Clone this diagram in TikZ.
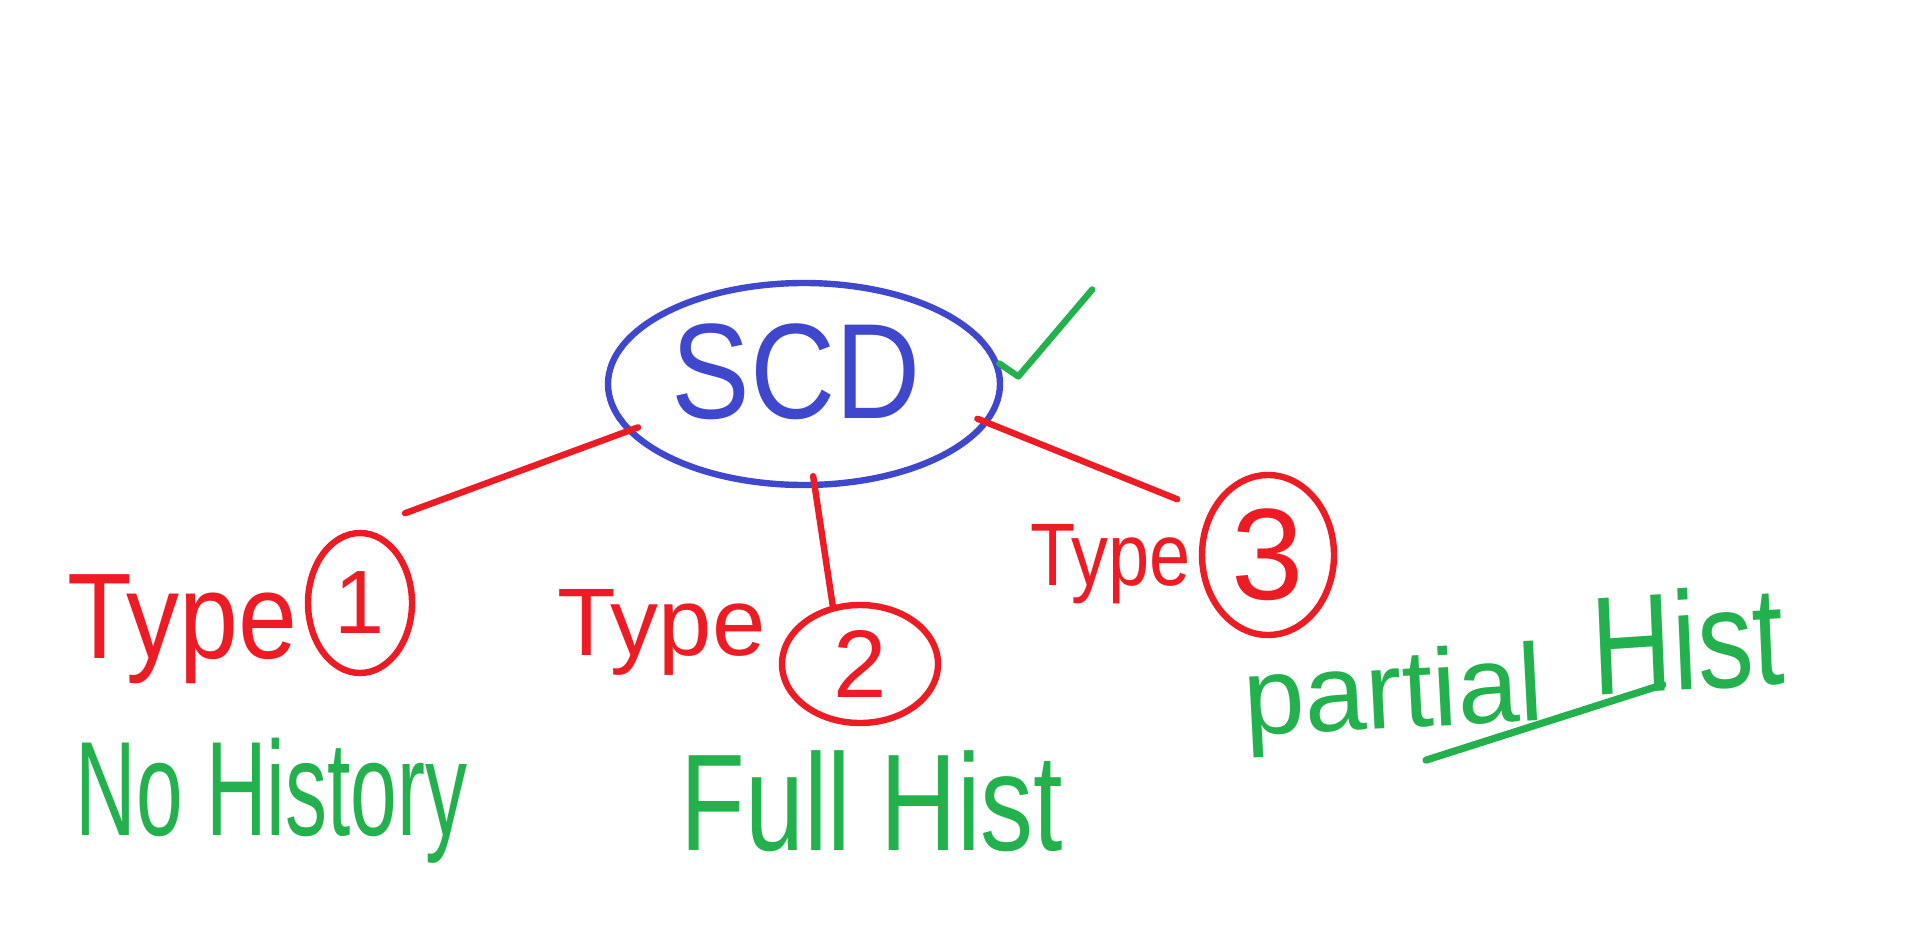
\documentclass[tikz,border=0pt]{standalone}
\usepackage{fontspec}
\setmainfont{Liberation Sans}
\usetikzlibrary{shapes.geometric,calc}
\definecolor{inkblue}{RGB}{63,72,204}
\definecolor{inkred}{RGB}{237,28,36}
\definecolor{inkgreen}{RGB}{34,177,76}
\newcommand*{\hand}[1]{\fontsize{#1}{#1}\selectfont}

\begin{document}
\begin{tikzpicture}[x=0.5pt,y=-0.5pt,
  word/.style={inner sep=0pt,anchor=base west,transform shape},
  ring/.style={ellipse,draw=inkred,line width=3.2pt,inner sep=0pt,text=inkred},
  wire/.style={inkred,line width=3.2pt,line cap=round,shorten <=-6pt},
  pen/.style={inkgreen,line width=3.2pt,line cap=round,line join=round}]
\useasboundingbox (0,0) rectangle (1914,937);
% Root ellipse with its title
\node (scd) [ellipse,draw=inkblue,line width=3.2pt,minimum width=196pt,minimum height=101pt] at (804,384) {};
\node (scdtext) [inner sep=0pt,text=inkblue,font=\hand{59},yscale=1.15,transform shape] at (796,372) {SCD};
% Tick beside the root
\draw[pen] (scd.6) -- ++(19,13) coordinate (tickfoot) -- ++(74,-87);
% The three types, circled numbers
\node (type1) [word,text=inkred,font=\hand{53},yscale=1.15] at (67,658) {Type};
\node (one) [ring,minimum width=52pt,minimum height=70pt,font=\hand{45}] at (360,603) {1};
\node (type2) [word,text=inkred,font=\hand{48}] at (557,655) {Type};
\node (two) [ring,minimum width=78pt,minimum height=59pt,font=\hand{48}] at (860,664) {2};
\node (type3) [word,text=inkred,font=\hand{37},yscale=1.2] at (1030,585) {Type};
\node (three) [ring,minimum width=66pt,minimum height=80pt,font=\hand{65}] at (1268,555) {3};
% Branches from root to types
\draw[wire,shorten >=24pt] (scd.195) -- (one.north);
\draw[wire] (scd.-84) -- (two.115);
\draw[wire,shorten >=17pt] (scd.-12) -- (three.144);
% What each type keeps
\node (nohist) [word,text=inkgreen,font=\hand{42},yscale=1.6] at (75,835) {No History};
\node (fullhist) [word,text=inkgreen,font=\hand{53},yscale=1.3] at (680,850) {Full Hist};
\node (partial) [word,text=inkgreen,font=\hand{55},rotate=3] at (1245,736) {partial};
\node (hist) [word,text=inkgreen,font=\hand{56},yscale=1.25,rotate=3] at (1593,696) {Hist};
\draw[pen,line width=3.6pt] ($(partial.base)+(31,32)$) -- ($(hist.base)+(-27,-5)$);
\end{tikzpicture}
\end{document}
